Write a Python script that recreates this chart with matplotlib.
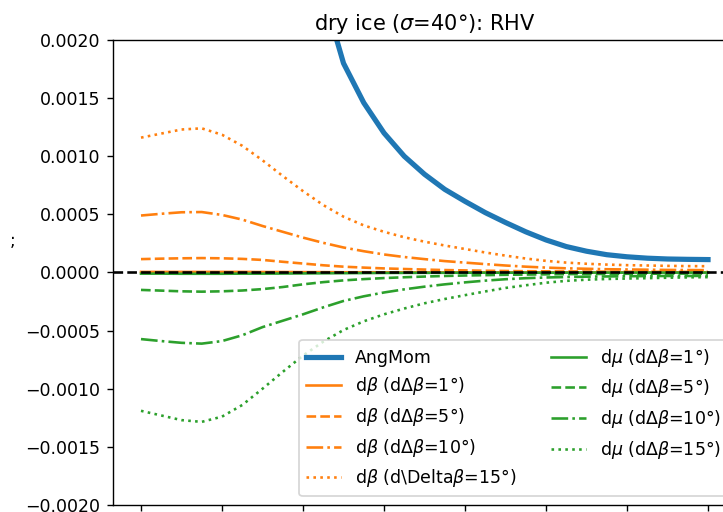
import numpy as np
import matplotlib
matplotlib.use("Agg")
import matplotlib.pyplot as plt

# sample positions along the x axis
x = [0, 2.5, 5, 7.5, 10, 12.5, 15, 17.5, 20, 22.5, 25, 27.5, 30, 32.5, 35,
     37.5, 40, 42.5, 45, 47.5, 50, 52.5, 55, 57.5, 60, 62.5, 65, 67.5, 70]

# angular momentum term (x 1e-3)
ang_mom = [9.0, 8.2, 7.4, 6.6, 5.8, 5.0, 4.3, 3.6, 3.0, 2.4, 1.8, 1.46, 1.2, 1.0, 0.845,
           0.715, 0.612, 0.515, 0.43, 0.35, 0.28, 0.223, 0.183, 0.153, 0.135, 0.123, 0.116, 0.113, 0.111]

# d(beta) for several d(Delta beta) steps (x 1e-3)
dbeta_1 = [0.005, 0.005, 0.005, 0.005, 0.005, 0.005, 0.004, 0.004, 0.003, 0.003, 0.002, 0.002, 0.0015, 0.0015, 0.001,
           0.001, 0.001, 0.001, 0.001, 0.001, 0.001, 0.001, 0.001, 0.001, 0.001, 0.001, 0.001, 0.001, 0.001]
dbeta_5 = [0.115, 0.119, 0.122, 0.124, 0.122, 0.117, 0.108, 0.092, 0.077, 0.062, 0.05, 0.042, 0.035, 0.03, 0.025,
           0.021, 0.018, 0.015, 0.013, 0.011, 0.01, 0.009, 0.008, 0.0075, 0.007, 0.0065, 0.006, 0.0055, 0.005]
dbeta_10 = [0.49, 0.505, 0.518, 0.52, 0.495, 0.455, 0.40, 0.35, 0.30, 0.255, 0.215, 0.183, 0.155, 0.133, 0.115,
            0.098, 0.085, 0.072, 0.06, 0.05, 0.042, 0.036, 0.032, 0.028, 0.026, 0.024, 0.022, 0.021, 0.02]
dbeta_15 = [1.16, 1.195, 1.23, 1.24, 1.185, 1.09, 0.965, 0.83, 0.70, 0.58, 0.48, 0.405, 0.35, 0.303, 0.265,
            0.232, 0.202, 0.172, 0.145, 0.12, 0.10, 0.085, 0.075, 0.068, 0.063, 0.06, 0.057, 0.055, 0.054]

# d(mu) for the same steps (x 1e-3)
dmu_1 = [-0.01, -0.01, -0.011, -0.011, -0.011, -0.01, -0.01, -0.009, -0.008, -0.007, -0.006, -0.005, -0.004, -0.0035, -0.003,
         -0.0025, -0.002, -0.002, -0.002, -0.002, -0.002, -0.0015, -0.001, -0.001, -0.001, -0.001, -0.001, -0.001, -0.001]
dmu_5 = [-0.15, -0.156, -0.162, -0.165, -0.162, -0.155, -0.143, -0.125, -0.102, -0.083, -0.068, -0.057, -0.048, -0.041, -0.035,
         -0.03, -0.026, -0.023, -0.02, -0.018, -0.016, -0.014, -0.013, -0.012, -0.011, -0.0105, -0.01, -0.0095, -0.009]
dmu_10 = [-0.573, -0.59, -0.605, -0.612, -0.59, -0.54, -0.47, -0.415, -0.36, -0.30, -0.245, -0.205, -0.172, -0.145, -0.122,
          -0.102, -0.085, -0.07, -0.058, -0.049, -0.043, -0.039, -0.036, -0.034, -0.032, -0.031, -0.03, -0.03, -0.029]
dmu_15 = [-1.19, -1.23, -1.27, -1.285, -1.24, -1.14, -1.0, -0.855, -0.715, -0.595, -0.495, -0.42, -0.36, -0.31, -0.265,
          -0.228, -0.195, -0.163, -0.133, -0.11, -0.088, -0.072, -0.062, -0.056, -0.052, -0.049, -0.045, -0.042, -0.04]

steps = [1, 5, 10, 15]
styles = ['-', '--', '-.', ':']

x = np.array(x)
scale = 1e-3

fig = plt.figure(figsize=(723 / 125, 512 / 125), dpi=125)
ax = fig.add_axes([0.1558, 0.0137, 0.8627, 0.9082])

ax.plot(x, np.array(ang_mom) * scale, color='C0', lw=3, label='AngMom')

for s, ls, vals in zip(steps, styles, [dbeta_1, dbeta_5, dbeta_10, dbeta_15]):
    if s == 15:
        lab = r'd$\beta$ (d\Delta$\beta$=%d°)' % s
    else:
        lab = r'd$\beta$ (d$\Delta\beta$=%d°)' % s
    ax.plot(x, np.array(vals) * scale, color='C1', ls=ls, label=lab)

for s, ls, vals in zip(steps, styles, [dmu_1, dmu_5, dmu_10, dmu_15]):
    ax.plot(x, np.array(vals) * scale, color='C2', ls=ls,
            label=r'd$\mu$ (d$\Delta\beta$=%d°)' % s)

ax.axhline(0, color='k', ls='--')

ax.set_ylim(-0.002, 0.002)
ax.set_xticks(range(0, 71, 10))
ax.set_title(r'dry ice ($\sigma$=40°): RHV')
ax.set_ylabel(';', rotation=0, ha='center', va='center')
ax.yaxis.set_label_coords(-0.161, 0.568)
ax.legend(loc='lower right', ncol=2)

fig.savefig('out.png', dpi=125)
